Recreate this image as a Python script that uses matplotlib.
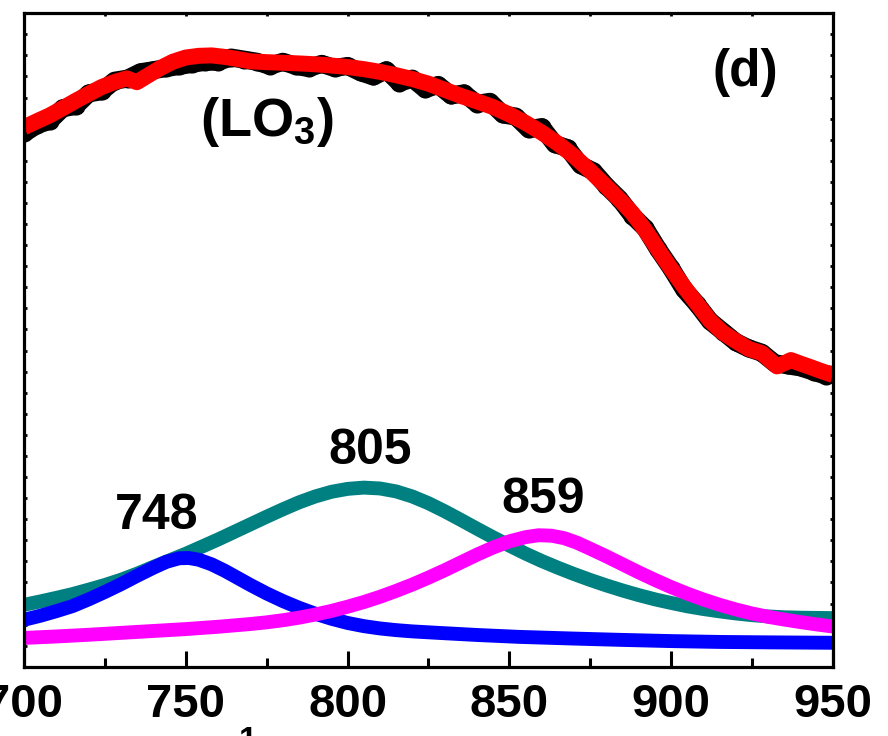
import matplotlib
matplotlib.use("Agg")
import matplotlib.pyplot as plt
from matplotlib.ticker import MultipleLocator

plt.rcParams['font.family'] = ['Liberation Sans', 'DejaVu Sans']
plt.rcParams['font.weight'] = 'bold'
plt.rcParams['mathtext.default'] = 'regular'

# measured spectrum (black) and its smoothed fit (red)
data_x = [700, 704, 708, 712, 716, 720, 724, 728, 732, 736, 740, 744, 748, 752, 756, 760,
          764, 768, 772, 776, 780, 784, 788, 792, 796, 800, 804, 808, 812, 816, 820, 824,
          828, 832, 836, 840, 844, 848, 852, 856, 860, 864, 868, 872, 876, 880, 884, 888,
          892, 896, 900, 904, 908, 912, 916, 920, 924, 928, 932, 936, 940, 944, 948, 950]
data_y = [25.3, 25.7, 25.9, 26.5, 26.6, 27.2, 27.3, 27.8, 27.9, 28.2, 28.3, 28.4, 28.5, 28.6,
          28.7, 28.7, 28.9, 28.8, 28.7, 28.5, 28.7, 28.5, 28.4, 28.6, 28.4, 28.5, 28.2, 28.0,
          28.3, 27.7, 27.9, 27.4, 27.6, 27.1, 27.2, 26.7, 26.8, 26.2, 26.1, 25.5, 25.6, 24.8,
          24.6, 23.8, 23.5, 22.8, 22.2, 21.4, 20.8, 19.8, 18.9, 17.9, 17.2, 16.4, 15.9, 15.4,
          15.1, 14.9, 14.4, 14.3, 14.2, 14.0, 13.8, 13.9]

fit_x = [700, 704, 708, 712, 716, 720, 724, 728, 731.8, 734.9, 738, 742, 746, 750, 754, 758,
         762, 766, 770, 775, 780, 785, 790, 795, 800, 805, 810, 815, 820, 825, 830, 835, 840,
         845, 850, 855, 860, 865, 870, 875, 880, 885, 888, 891, 894, 897, 900, 904, 908, 912,
         916, 920, 924, 928, 930, 932.7, 935, 937, 940, 943, 946, 950]
fit_y = [25.59, 25.88, 26.16, 26.50, 26.85, 27.18, 27.50, 27.74, 27.91, 27.73, 28.02, 28.39,
         28.70, 28.90, 28.98, 29.00, 28.93, 28.83, 28.72, 28.68, 28.65, 28.62, 28.58, 28.52,
         28.45, 28.35, 28.22, 28.06, 27.88, 27.66, 27.37, 27.08, 26.82, 26.55, 26.20, 25.80,
         25.34, 24.82, 24.22, 23.52, 22.78, 22.02, 21.52, 20.92, 20.25, 19.55, 18.88, 18.02,
         17.22, 16.42, 15.85, 15.45, 15.08, 14.88, 14.62, 14.25, 14.40, 14.55, 14.38, 14.22,
         14.05, 13.84]

# fitted component peaks
p748_x = [700, 705, 710, 715, 720, 725, 730, 735, 740, 744, 748, 751, 754, 758, 762, 766,
          770, 775, 780, 785, 790, 795, 800, 805, 810, 815, 820, 828, 840, 853, 870, 884,
          900, 915, 930, 950]
p748_y = [2.23, 2.42, 2.64, 2.88, 3.20, 3.55, 3.92, 4.32, 4.70, 4.98, 5.15, 5.16, 5.08, 4.86,
          4.56, 4.22, 3.88, 3.48, 3.12, 2.80, 2.52, 2.28, 2.08, 1.93, 1.82, 1.74, 1.68, 1.61,
          1.51, 1.42, 1.34, 1.28, 1.22, 1.18, 1.16, 1.14]

p805_x = [700, 705, 710, 715, 720, 725, 730, 735, 740, 745, 750, 755, 760, 765, 770, 775,
          780, 785, 790, 795, 800, 805, 810, 815, 820, 825, 830, 835, 840, 845, 850, 855,
          860, 865, 870, 875, 880, 885, 890, 895, 900, 905, 910, 915, 920, 925, 930, 935,
          940, 950]
p805_y = [2.94, 3.10, 3.27, 3.45, 3.66, 3.88, 4.13, 4.42, 4.74, 5.05, 5.36, 5.70, 6.04, 6.40,
          6.76, 7.12, 7.47, 7.80, 8.08, 8.30, 8.44, 8.50, 8.46, 8.32, 8.08, 7.76, 7.38, 6.97,
          6.55, 6.14, 5.75, 5.37, 5.02, 4.70, 4.40, 4.12, 3.86, 3.62, 3.40, 3.20, 3.03, 2.87,
          2.74, 2.63, 2.53, 2.45, 2.39, 2.35, 2.33, 2.31]

p859_x = [700, 710, 720, 730, 740, 750, 760, 770, 775, 780, 785, 790, 795, 800, 805, 810,
          815, 820, 825, 830, 835, 840, 845, 850, 855, 859, 863, 867, 871, 875, 880, 885,
          890, 895, 900, 905, 910, 915, 920, 925, 930, 935, 940, 945, 950]
p859_y = [1.37, 1.44, 1.52, 1.61, 1.70, 1.79, 1.90, 2.03, 2.11, 2.21, 2.33, 2.48, 2.65, 2.85,
          3.07, 3.32, 3.60, 3.90, 4.23, 4.58, 4.95, 5.32, 5.66, 5.95, 6.15, 6.24, 6.22, 6.10,
          5.88, 5.60, 5.24, 4.86, 4.48, 4.12, 3.78, 3.47, 3.19, 2.94, 2.72, 2.53, 2.37, 2.24,
          2.12, 2.01, 1.91]

fig = plt.figure(figsize=(8.88, 7.36), dpi=100)
ax = fig.add_axes([0.027, 0.094, 0.911, 0.888])

kw = dict(solid_capstyle='butt', solid_joinstyle='round')
ax.plot(p805_x, p805_y, color='#008080', lw=10, **kw)
ax.plot(p748_x, p748_y, color='#0000ff', lw=10, **kw)
ax.plot(p859_x, p859_y, color='#ff00ff', lw=10, **kw)
ax.plot(data_x, data_y, color='black', lw=13, marker='o', ms=12, **kw)
ax.plot(fit_x, fit_y, color='#ff0000', lw=11.5, **kw)

ax.text(741, 7.16, '748', fontsize=36, fontweight='bold', ha='center', va='center')
ax.text(807, 10.24, '805', fontsize=36, fontweight='bold', ha='center', va='center')
ax.text(860.4, 7.91, '859', fontsize=36, fontweight='bold', ha='center', va='center')
ax.text(754.4, 25.83, '(LO$_3$)', fontsize=39, fontweight='bold', ha='left', va='center')
ax.text(922.8, 28.2, '(d)', fontsize=37, fontweight='bold', ha='center', va='center')

ax.set_xlim(700, 950)
ax.set_ylim(0, 31)
ax.xaxis.set_major_locator(MultipleLocator(50))
ax.xaxis.set_minor_locator(MultipleLocator(25))
ax.yaxis.set_major_locator(MultipleLocator(1))
ax.set_yticklabels([])
ax.tick_params(axis='x', which='major', direction='in', length=11.5, width=2.2,
               labelsize=34, pad=12, top=False)
ax.tick_params(axis='x', which='minor', direction='in', length=6.5, width=2.2, top=False)
ax.tick_params(axis='y', which='both', direction='in', length=2.5, width=2, left=True, right=True)
for s in ax.spines.values():
    s.set_linewidth(2.3)

# top ticks are tiny in the original
sec = ax.secondary_xaxis('top')
sec.xaxis.set_major_locator(MultipleLocator(25))
sec.tick_params(direction='in', length=2.5, width=2, labeltop=False)
sec.spines['top'].set_visible(False)

# axis label lies mostly below the cropped edge
fig.text(258 / 888, 1 - 733 / 736, 'cm$^{-1}$', fontsize=34, fontweight='bold',
         ha='right', va='top')

fig.savefig('out.png', dpi=100)
